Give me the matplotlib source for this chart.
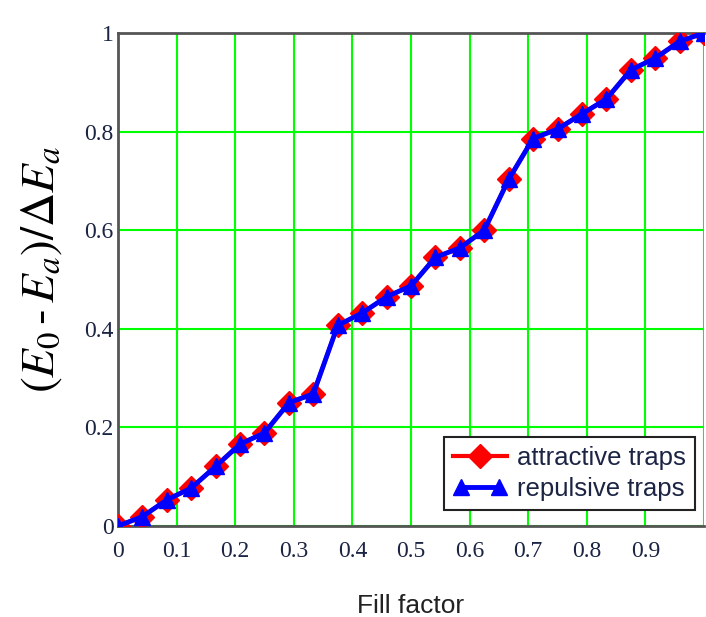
import matplotlib
matplotlib.use("Agg")
import matplotlib.pyplot as plt
from matplotlib.legend_handler import HandlerLine2D

# fill factor samples (i/24)
fill = [i / 24 for i in range(25)]
attractive = [0.0, 0.019, 0.053, 0.077, 0.121, 0.166, 0.189, 0.250, 0.268,
              0.407, 0.432, 0.465, 0.487, 0.545, 0.564, 0.600, 0.703, 0.786,
              0.805, 0.836, 0.866, 0.925, 0.949, 0.983, 1.0]
repulsive = [0.0, 0.019, 0.053, 0.077, 0.121, 0.166, 0.189, 0.250, 0.268,
             0.407, 0.432, 0.465, 0.487, 0.545, 0.564, 0.600, 0.703, 0.786,
             0.805, 0.836, 0.866, 0.925, 0.949, 0.983, 1.0]
xticklabels = ["0", "0.1", "0.2", "0.3", "0.4", "0.5", "0.6", "0.7", "0.8", "0.9", ""]
yticks = [0, 0.2, 0.4, 0.6, 0.8, 1.0]
yticklabels = ["0", "0.2", "0.4", "0.6", "0.8", "1"]

plt.rcParams['mathtext.fontset'] = 'stix'
txt = '#1c2444'

fig = plt.figure(figsize=(7.06, 6.17), dpi=100)
ax = fig.add_axes([0.1671, 0.1475, 0.8301, 0.799])

ax.grid(True, color='#00ff00', lw=1.5, zorder=0)
ax.set_axisbelow(True)

l1, = ax.plot(fill, attractive, color='red', lw=3, marker='D', ms=12.5,
              mec='red', zorder=3, label='attractive traps')
l2, = ax.plot(fill, repulsive, color='blue', lw=3.5, marker='^', ms=12,
              mec='blue', zorder=4, label='repulsive traps')

ax.set_xlim(0, 1)
ax.set_ylim(0, 1)
ax.set_xticks([0.1 * i for i in range(11)])
ax.set_xticklabels(xticklabels, fontfamily='Liberation Serif',
                   fontsize=17, color=txt)
ax.set_yticks(yticks)
ax.set_yticklabels(yticklabels, fontfamily='Liberation Serif',
                   fontsize=17, color=txt)
ax.tick_params(axis='x', length=0, pad=11)
ax.tick_params(axis='y', length=0, pad=3)

for s in ['left', 'bottom', 'top']:
    ax.spines[s].set_color('#555555')
    ax.spines[s].set_linewidth(2)
ax.spines['right'].set_visible(False)

ax.set_xlabel('Fill factor', fontfamily='Liberation Sans', fontsize=19,
              color='#222222', labelpad=23)
ax.set_ylabel(r'$(E_0\,\text{-}\,E_a)/\Delta E_a$', fontsize=34,
              color='black')
ax.yaxis.set_label_coords(-0.092, 0.52)

leg = ax.legend(handles=[l1, l2], loc='lower right',
                bbox_to_anchor=(0.985, 0.033),
                handler_map={l1: HandlerLine2D(numpoints=1),
                             l2: HandlerLine2D(numpoints=2)},
                prop={'family': 'Liberation Sans', 'size': 18.5},
                fancybox=False, framealpha=1, edgecolor='#222222',
                borderpad=0.35, handlelength=2.1, handletextpad=0.4,
                labelspacing=0.25, borderaxespad=0)
leg.get_frame().set_linewidth(1.5)
for t in leg.get_texts():
    t.set_color(txt)

fig.savefig('out.png', dpi=100)
